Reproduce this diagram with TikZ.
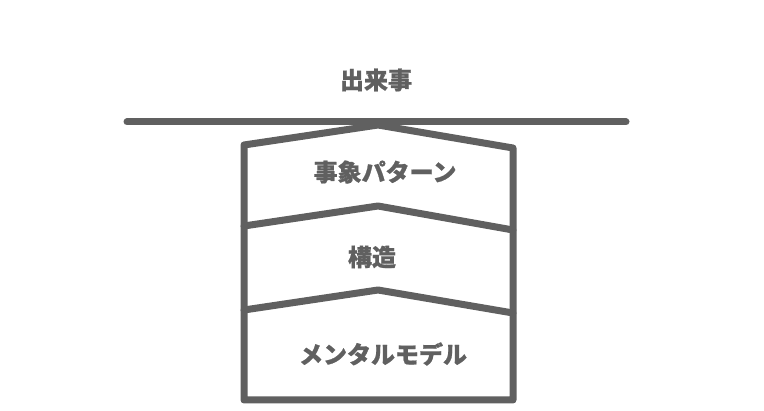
\documentclass[tikz,border=0pt]{standalone}
\usepackage{fontspec}
\newfontfamily\jp{Noto Sans CJK JP Bold}[FakeBold=0.8]
\definecolor{ink}{HTML}{606060}
\begin{document}
\begin{tikzpicture}[x=1pt,y=-1pt,
  lin/.style={draw=ink,line width=7pt,line join=round,line cap=round},
  lab/.style={text=ink,font=\jp\bfseries\fontsize{24}{24}\selectfont,inner sep=0pt}]
\useasboundingbox (0,0) rectangle (764,411);
\coordinate (L1) at (127,122);
\coordinate (R1) at (626,122);
\draw[lin] (L1) -- (R1);
% outer shape
\coordinate (tl) at (244,145);
\coordinate (tp) at (378,125);
\coordinate (tr) at (513,148);
\coordinate (bl) at (244,400);
\coordinate (br) at (513,400);
\draw[lin] (tp) -- (tr) -- (br) -- (bl) -- (tl) -- cycle;
% bands
\coordinate (al) at (244,226);
\coordinate (ap) at (378,206);
\coordinate (ar) at (513,230);
\draw[lin] (al) -- (ap) -- (ar);
\coordinate (bl2) at (244,310);
\coordinate (bp) at (378,290);
\coordinate (br2) at (513,313);
\draw[lin] (bl2) -- (bp) -- (br2);
% labels
\node[lab] (e) at (376,80) {出来事};
\node[lab] (p) at (385,172) {事象パターン};
\node[lab] (s) at (372,257) {構造};
\node[lab] (m) at (383,354) {メンタルモデル};
\end{tikzpicture}
\end{document}
